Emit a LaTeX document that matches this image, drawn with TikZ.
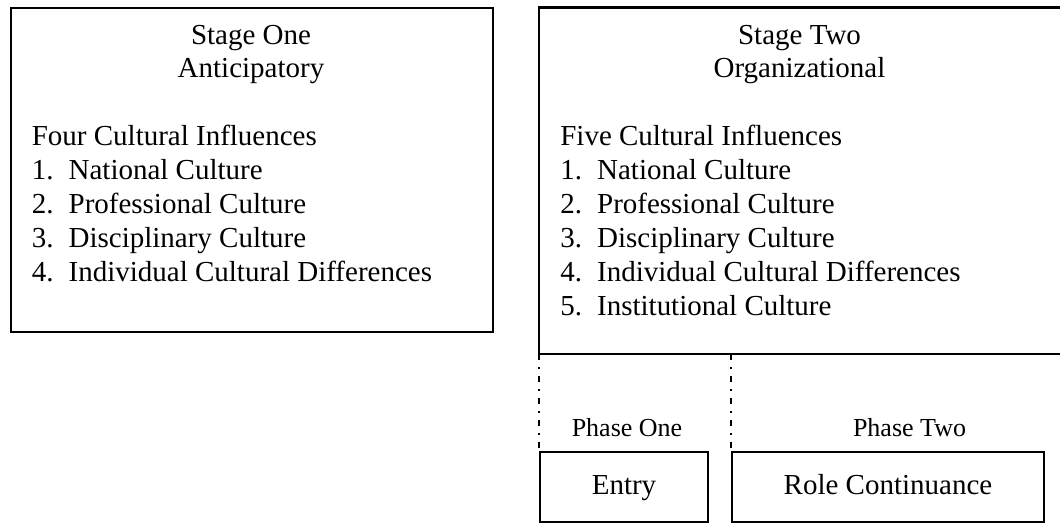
\documentclass[tikz,border=0pt]{standalone}
\usepackage{fontspec}
\setmainfont{Liberation Serif}
\usetikzlibrary{positioning}

\newcommand{\mainsize}{\fontsize{16.5pt}{19.2pt}\selectfont}
\newcommand{\phasesize}{\fontsize{14.8pt}{17pt}\selectfont}
\newcommand{\itemnum}[1]{\makebox[0.736cm][l]{#1.}}

\begin{document}
\begin{tikzpicture}[x=0.02cm, y=-0.02cm,
  frame/.style={draw, line width=1.15pt, inner sep=0pt},
  frameline/.style={line width=1.15pt},
  phasebox/.style={frame, anchor=north west, minimum height=1.41cm, text height=11.5pt, text depth=3.5pt, font=\mainsize},
  phaseline/.style={line width=1.1pt, dash pattern=on 3.4pt off 4pt on 1.1pt off 4pt},
  title/.style={anchor=base, inner sep=0pt, font=\mainsize},
  listtext/.style={anchor=base west, inner sep=0pt, font=\mainsize},
  phasetext/.style={anchor=base, inner sep=0pt, font=\phasesize}]

% Page
\useasboundingbox (0,0) rectangle (1060,523);

% Stage one
\node[frame, anchor=north west, minimum width=9.63cm, minimum height=6.47cm] (stageone) at (10.3,7.3) {};
\node[title] (one-title) at (251,45) {Stage One};
\node[title] (one-sub) at (251,78) {Anticipatory};
\node[listtext] (one-head) at (31.5,146) {Four Cultural Influences};
\foreach \txt [count=\i] in {National Culture, Professional Culture, Disciplinary Culture, Individual Cultural Differences}
  \node[listtext] (one-item\i) at (31.5,146+33.8*\i) {\itemnum{\i}\txt};

% Stage two (open on the right)
\coordinate (two-nw) at (539,7.5);
\coordinate (two-sw) at (539,354);
\draw[frameline] (1060,7.5) -- (two-nw) -- (two-sw) -- (1060,354);
\node[title] (two-title) at (799.5,45) {Stage Two};
\node[title] (two-sub) at (799.5,78) {Organizational};
\node[listtext] (two-head) at (560,146) {Five Cultural Influences};
\foreach \txt [count=\i] in {National Culture, Professional Culture, Disciplinary Culture, Individual Cultural Differences, Institutional Culture}
  \node[listtext] (two-item\i) at (560,146+33.8*\i) {\itemnum{\i}\txt};

% Phases
\node[phasebox, minimum width=3.36cm] (entry) at (539,451) {Entry};
\node[phasebox, minimum width=6.24cm] (role) at (731,451) {Role Continuance};

\draw[phaseline] (two-sw) -- (entry.north west);
\draw[phaseline] (two-sw -| role.north west) -- (role.north west);

\node[phasetext] (phaseone) at (627,436) {Phase One};
\node[phasetext] (phasetwo) at (909.5,436) {Phase Two};
\end{tikzpicture}
\end{document}
